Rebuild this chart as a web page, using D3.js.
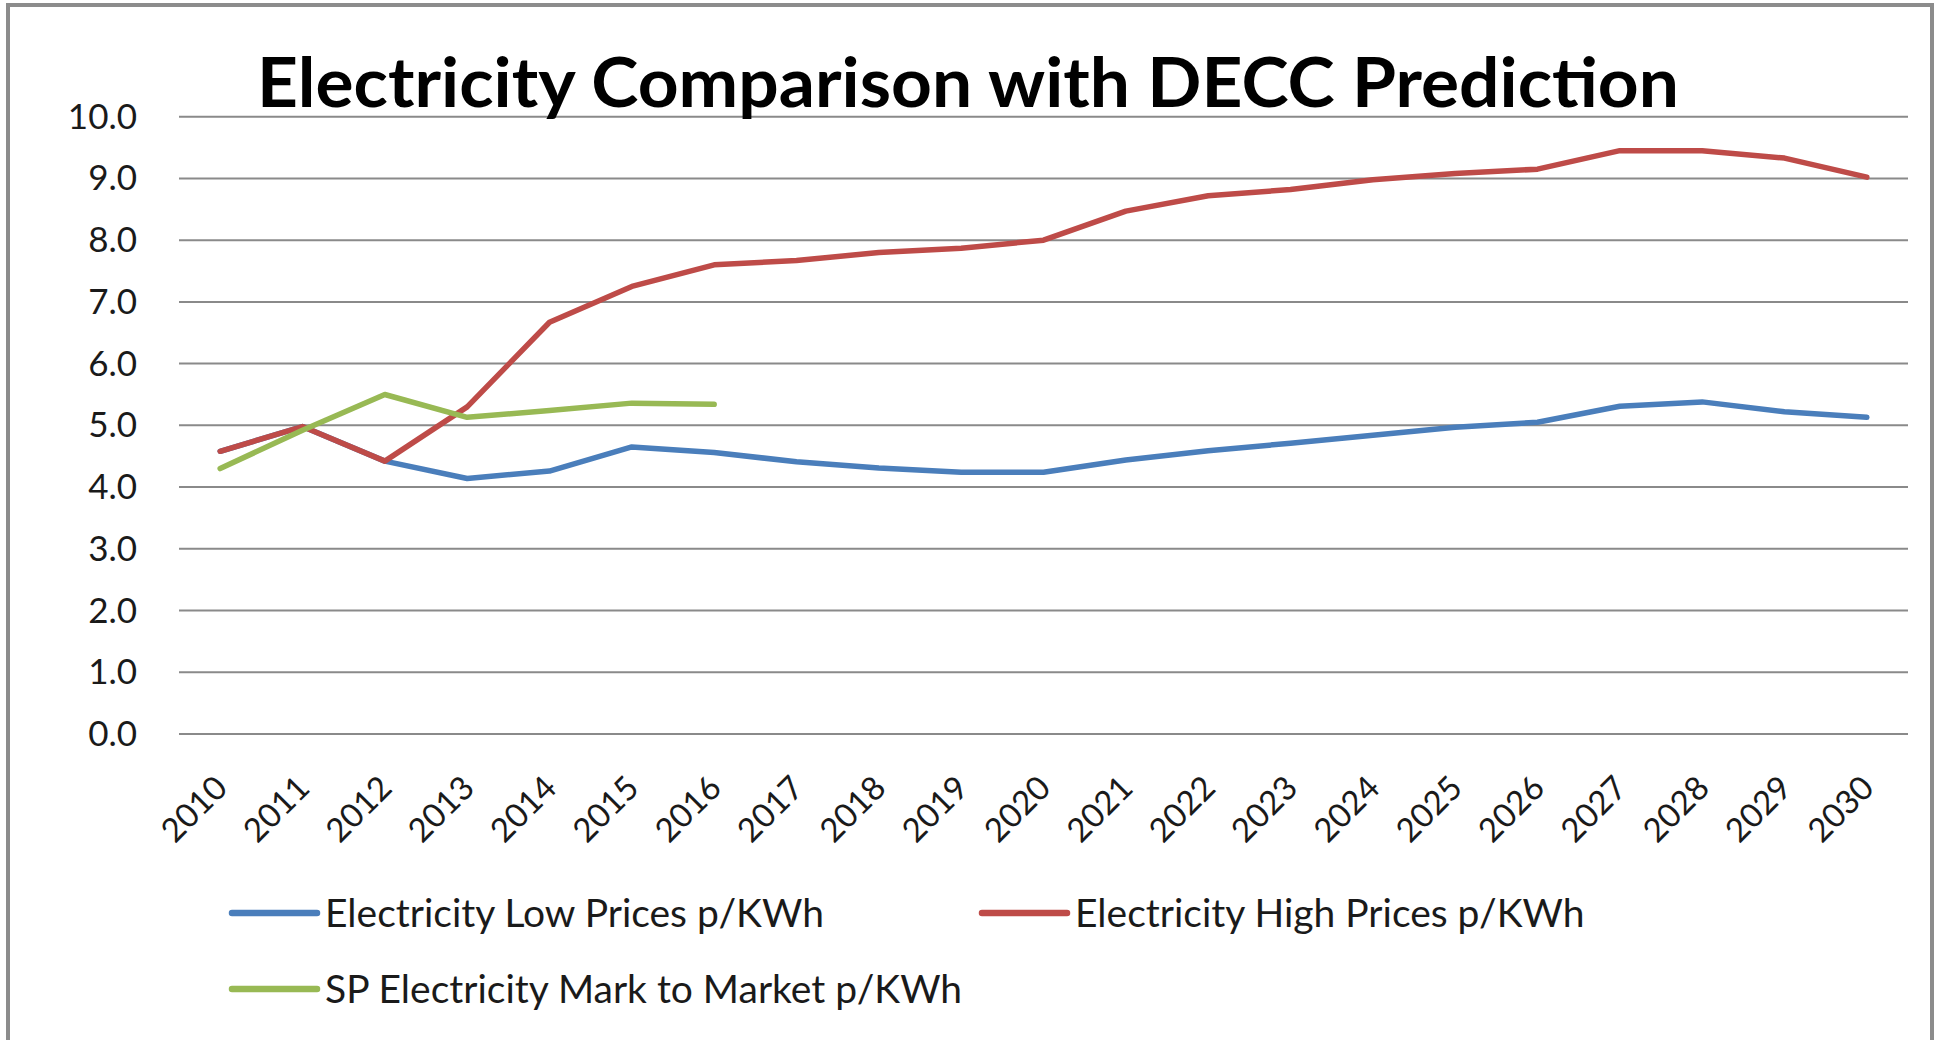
<!DOCTYPE html>
<html>
<head>
<meta charset="utf-8">
<script src="https://cdn.jsdelivr.net/npm/d3@7"></script>
<style>
  html, body { margin: 0; padding: 0; background: #fff; }
  svg { display: block; font-family: Lato, "Open Sans", sans-serif; }
</style>
</head>
<body>
<div id="chart"></div>
<script>
/* Electricity price comparison — three line series on a year category axis,
   Excel-style layout: bold title, grid, rotated year labels, legend below. */
const years = d3.range(2010, 2031).map(String);
const yTicks = d3.range(0, 10.01, 1);

const lowPrices  = [4.58, 4.98, 4.42, 4.14, 4.26, 4.65, 4.56, 4.41, 4.31, 4.24, 4.24, 4.44, 4.59, 4.71, 4.84, 4.97, 5.05, 5.31, 5.38, 5.22, 5.13];
const highPrices = [4.58, 4.98, 4.42, 5.30, 6.67, 7.25, 7.60, 7.67, 7.80, 7.87, 8.00, 8.47, 8.72, 8.82, 8.98, 9.08, 9.15, 9.45, 9.45, 9.33, 9.02];
const spMarket   = [4.30, 4.92, 5.50, 5.13, 5.24, 5.36, 5.34, null, null, null, null, null, null, null, null, null, null, null, null, null, null];

const seriesNames  = ['Electricity Low Prices p/KWh', 'Electricity High Prices p/KWh', 'SP Electricity Mark to Market p/KWh'];
const seriesColors = ['#4a7ebb', '#be4b48', '#98b954'];
const seriesValues = [lowPrices, highPrices, spMarket];

const W = 1941, H = 1040;
const svg = d3.select('#chart').append('svg').attr('width', W).attr('height', H);

// outer chart frame (bottom edge lies below the visible area)
svg.append('rect')
  .attr('x', 8).attr('y', 5).attr('width', 1924).attr('height', 1100)
  .attr('fill', '#fff').attr('stroke', '#8c8c8c').attr('stroke-width', 4);

const x = d3.scaleBand().domain(years).range([179, 1908]).padding(0);
const cx = d => x(d) + x.bandwidth() / 2;
const y = d3.scaleLinear().domain([0, 10]).range([734, 116.7]);

// gridlines
svg.append('g').selectAll('line').data(yTicks).join('line')
  .attr('x1', 179).attr('x2', 1908)
  .attr('y1', d => y(d)).attr('y2', d => y(d))
  .attr('stroke', '#8a8a8a').attr('stroke-width', 2);

// y axis labels
svg.append('g').selectAll('text').data(yTicks).join('text')
  .attr('x', 137).attr('y', d => y(d) + 12)
  .attr('text-anchor', 'end')
  .style('font-size', '35px').style('fill', '#1a1a1a')
  .text(d => d.toFixed(1));

// x axis labels, rotated
svg.append('g').selectAll('text').data(years).join('text')
  .attr('transform', d => 'translate(' + (cx(d) + 9) + ',790) rotate(-45)')
  .attr('text-anchor', 'end')
  .style('font-size', '33px').style('fill', '#1a1a1a')
  .text(d => d);

// series
const line = d3.line()
  .defined(d => d.v != null)
  .x(d => cx(d.year))
  .y(d => y(d.v));

seriesValues.forEach((vals, i) => {
  svg.append('path')
    .datum(years.map((yr, j) => ({ year: yr, v: vals[j] })))
    .attr('d', line)
    .attr('fill', 'none')
    .attr('stroke', seriesColors[i])
    .attr('stroke-width', 5.5)
    .attr('stroke-linejoin', 'round')
    .attr('stroke-linecap', 'round');
});

// title
svg.append('text')
  .attr('x', 257).attr('y', 107)
  .attr('textLength', 1422).attr('lengthAdjust', 'spacingAndGlyphs')
  .style('font-size', '68px').style('font-weight', 700).style('fill', '#000')
  .text('Electricity Comparison with DECC Prediction');

// legend
const legendPos = [[230, 913], [980, 913], [230, 989]];
const lg = svg.append('g').selectAll('g').data(seriesNames).join('g')
  .attr('transform', (d, i) => 'translate(' + legendPos[i][0] + ',' + legendPos[i][1] + ')');
lg.append('line')
  .attr('x1', 2).attr('x2', 87).attr('y1', 0).attr('y2', 0)
  .attr('stroke', (d, i) => seriesColors[i])
  .attr('stroke-width', 6.5).attr('stroke-linecap', 'round');
lg.append('text')
  .attr('x', 95).attr('y', 14)
  .style('font-size', '39px').style('fill', '#1a1a1a')
  .text(d => d);
</script>
</body>
</html>
